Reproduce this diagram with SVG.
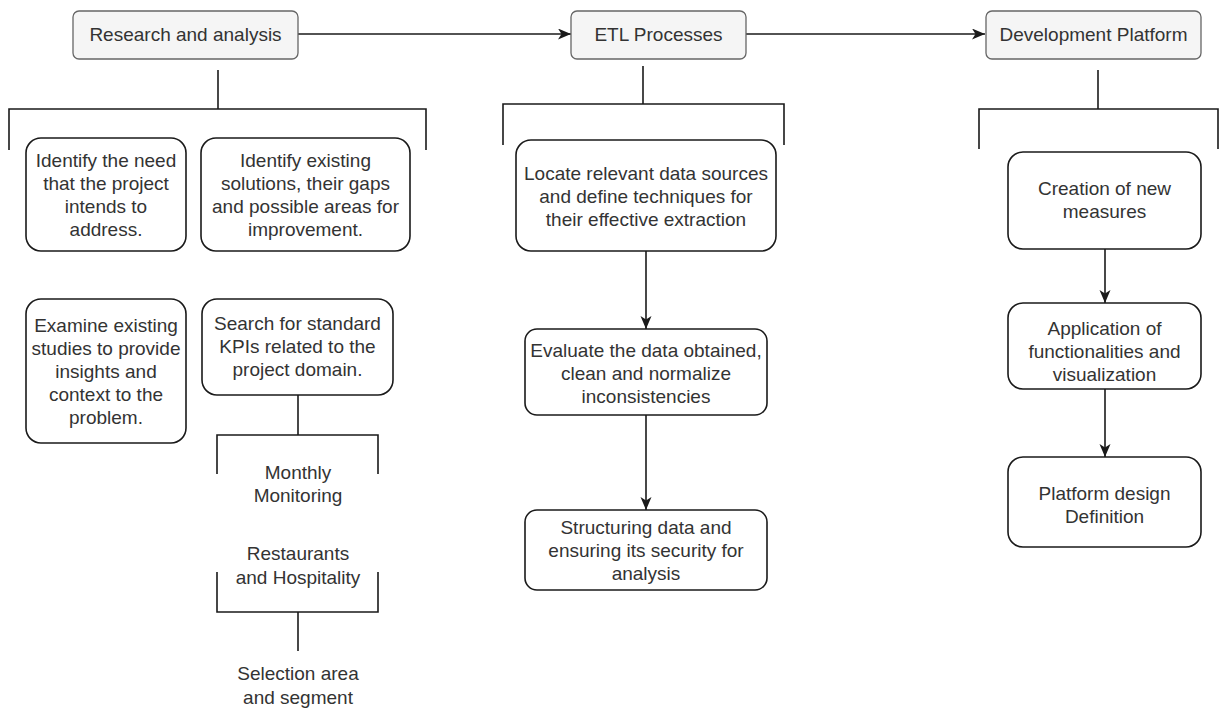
<svg xmlns="http://www.w3.org/2000/svg" width="1219" height="708" viewBox="0 0 1219 708">
<style>
  .hdr { fill: #f5f5f5; stroke: #666666; stroke-width: 1.3; }
  .box { fill: #ffffff; stroke: #1a1a1a; stroke-width: 1.6; }
  .t { font-family: "Liberation Sans", Arial, sans-serif; font-size: 19px; fill: #333333; text-anchor: middle; }
  .ln { fill: none; stroke: #1a1a1a; stroke-width: 1.6; }
</style>
<defs>
  <marker id="arr" markerUnits="userSpaceOnUse" markerWidth="14" markerHeight="12" refX="13" refY="5.5" orient="auto">
    <path d="M0,0 L13,5.5 L0,11 L3.5,5.5 Z" fill="#1a1a1a"/>
  </marker>
</defs>
<rect width="1219" height="708" fill="#ffffff"/>

<g id="connectors">
  <line class="ln" x1="298" y1="34" x2="571" y2="34" marker-end="url(#arr)"/>
  <line class="ln" x1="746" y1="34" x2="985" y2="34" marker-end="url(#arr)"/>
  <!-- Research bracket -->
  <line class="ln" x1="218" y1="70" x2="218" y2="109"/>
  <polyline class="ln" points="9,150 9,109 426,109 426,150"/>
  <!-- KPI bracket -->
  <line class="ln" x1="298" y1="395" x2="298" y2="435"/>
  <polyline class="ln" points="217,474 217,435 378,435 378,474"/>
  <polyline class="ln" points="217,572 217,612 378,612 378,572"/>
  <line class="ln" x1="298" y1="612" x2="298" y2="651"/>
  <!-- ETL bracket -->
  <line class="ln" x1="643" y1="66" x2="643" y2="104"/>
  <polyline class="ln" points="503,145 503,104 784,104 784,145"/>
  <line class="ln" x1="646" y1="251" x2="646" y2="329" marker-end="url(#arr)"/>
  <line class="ln" x1="646" y1="415" x2="646" y2="510" marker-end="url(#arr)"/>
  <!-- Dev bracket -->
  <line class="ln" x1="1098" y1="70" x2="1098" y2="109"/>
  <polyline class="ln" points="979,149 979,109 1218,109 1218,149"/>
  <line class="ln" x1="1105" y1="249" x2="1105" y2="303" marker-end="url(#arr)"/>
  <line class="ln" x1="1105" y1="389" x2="1105" y2="457" marker-end="url(#arr)"/>
</g>

<g id="research">
  <rect class="hdr" x="73" y="11" width="225" height="48" rx="6"/>
  <text class="t" x="185.5" y="41">Research and analysis</text>
</g>
<g id="etl">
  <rect class="hdr" x="571" y="11" width="175" height="48" rx="6"/>
  <text class="t" x="658.5" y="41">ETL Processes</text>
</g>
<g id="devplatform">
  <rect class="hdr" x="986" y="11" width="215" height="48" rx="6"/>
  <text class="t" x="1093.5" y="41">Development Platform</text>
</g>

<g id="need">
  <rect class="box" x="26" y="138" width="160" height="113" rx="15"/>
  <text class="t" x="106" y="167">Identify the need</text>
  <text class="t" x="106" y="190">that the project</text>
  <text class="t" x="106" y="213">intends to</text>
  <text class="t" x="106" y="236">address.</text>
</g>
<g id="solutions">
  <rect class="box" x="201" y="138" width="209" height="113" rx="15"/>
  <text class="t" x="305.5" y="167">Identify existing</text>
  <text class="t" x="305.5" y="190">solutions, their gaps</text>
  <text class="t" x="305.5" y="213">and possible areas for</text>
  <text class="t" x="305.5" y="236">improvement.</text>
</g>
<g id="studies">
  <rect class="box" x="26" y="299" width="160" height="144" rx="15"/>
  <text class="t" x="106" y="332">Examine existing</text>
  <text class="t" x="106" y="355">studies to provide</text>
  <text class="t" x="106" y="378">insights and</text>
  <text class="t" x="106" y="401">context to the</text>
  <text class="t" x="106" y="424">problem.</text>
</g>
<g id="kpis">
  <rect class="box" x="202" y="299" width="191" height="96" rx="15"/>
  <text class="t" x="297.5" y="330">Search for standard</text>
  <text class="t" x="297.5" y="353">KPIs related to the</text>
  <text class="t" x="297.5" y="376">project domain.</text>
</g>
<g id="monthly">
  <text class="t" x="298" y="479">Monthly</text>
  <text class="t" x="298" y="502">Monitoring</text>
</g>
<g id="restaurants">
  <text class="t" x="298" y="560">Restaurants</text>
  <text class="t" x="298" y="584">and Hospitality</text>
</g>
<g id="selection">
  <text class="t" x="298" y="680">Selection area</text>
  <text class="t" x="298" y="704">and segment</text>
</g>

<g id="locate">
  <rect class="box" x="516" y="140" width="260" height="111" rx="15"/>
  <text class="t" x="646" y="180">Locate relevant data sources</text>
  <text class="t" x="646" y="203">and define techniques for</text>
  <text class="t" x="646" y="226">their effective extraction</text>
</g>
<g id="evaluate">
  <rect class="box" x="525" y="329" width="242" height="86" rx="12"/>
  <text class="t" x="646" y="357">Evaluate the data obtained,</text>
  <text class="t" x="646" y="380">clean and normalize</text>
  <text class="t" x="646" y="403">inconsistencies</text>
</g>
<g id="structuring">
  <rect class="box" x="525" y="510" width="242" height="80" rx="12"/>
  <text class="t" x="646" y="534">Structuring data and</text>
  <text class="t" x="646" y="557">ensuring its security for</text>
  <text class="t" x="646" y="580">analysis</text>
</g>

<g id="creation">
  <rect class="box" x="1008" y="152" width="193" height="97" rx="15"/>
  <text class="t" x="1104.5" y="195">Creation of new</text>
  <text class="t" x="1104.5" y="218">measures</text>
</g>
<g id="application">
  <rect class="box" x="1008" y="303" width="193" height="86" rx="15"/>
  <text class="t" x="1104.5" y="335">Application of</text>
  <text class="t" x="1104.5" y="358">functionalities and</text>
  <text class="t" x="1104.5" y="381">visualization</text>
</g>
<g id="platformdesign">
  <rect class="box" x="1008" y="457" width="193" height="90" rx="15"/>
  <text class="t" x="1104.5" y="500">Platform design</text>
  <text class="t" x="1104.5" y="523">Definition</text>
</g>
</svg>
